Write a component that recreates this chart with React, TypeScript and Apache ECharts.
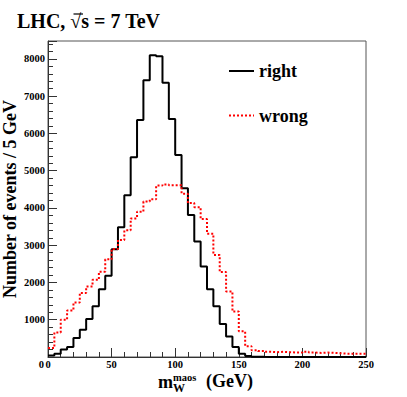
import React, { useEffect, useRef } from 'react';
import * as echarts from 'echarts';

const binWidth = 5;
const xMin = 0;
const xMax = 250;
const yMax = 8480;

const rightCounts = [
  40, 90, 200, 270, 510, 730, 1020, 1360, 1820, 2180,
  2890, 3480, 4340, 5360, 6360, 7430, 8100, 8070, 7360, 6390,
  5420, 4530, 3810, 3100, 2430, 1820, 1360, 885, 550, 270,
  90, 30, 10, 4, 2, 1, 0, 0, 0, 0,
  0, 0, 0, 0, 0, 0, 0, 0, 0, 0,
];

const wrongCounts = [
  240, 660, 1000, 1250, 1460, 1720, 1890, 2070, 2290, 2620,
  2900, 3140, 3400, 3720, 3900, 4170, 4230, 4600, 4630, 4610,
  4610, 4380, 4130, 4020, 3700, 3310, 2740, 2280, 1760, 1220,
  690, 290, 180, 160, 140, 130, 140, 130, 120, 120,
  140, 120, 110, 120, 110, 100, 90, 90, 90, 90,
];

const yTickLabels = [0, 1000, 2000, 3000, 4000, 5000, 6000, 7000, 8000];
const xTickLabels = [0, 50, 100, 150, 200, 250];

const seriesNames = ['right', 'wrong'];

const FONT = "'Liberation Serif', 'DejaVu Serif', serif";

function toSteps(counts: number[]) {
  const pts: number[][] = counts.map((v, i) => [xMin + i * binWidth, v]);
  pts.push([xMin + counts.length * binWidth, counts[counts.length - 1]]);
  return pts;
}

export default function App() {
  const ref = useRef<HTMLDivElement>(null);
  useEffect(() => {
    if (!ref.current) return;
    const chart = echarts.init(ref.current, undefined, { renderer: 'svg' });
    const labelStyle = {
      fontFamily: FONT,
      fontWeight: 'bold' as const,
      fontSize: 10.5,
      color: '#000',
    };
    const axisLineStyle = { color: '#333', width: 1 };
    chart.setOption({
      animation: false,
      grid: {
        left: 48,
        right: 41,
        top: 41,
        bottom: 40,
        show: true,
        borderColor: '#555',
        borderWidth: 1,
        backgroundColor: 'transparent',
      },
      legend: {
        data: seriesNames,
        orient: 'vertical',
        left: 223,
        top: 57,
        itemGap: 26.5,
        itemWidth: 25,
        itemHeight: 14,
        itemStyle: { opacity: 0 },
        textStyle: { fontFamily: FONT, fontWeight: 'bold', fontSize: 18, color: '#000' },
      },
      xAxis: [
        {
          type: 'value',
          min: xMin,
          max: xMax,
          interval: 10,
          position: 'bottom',
          axisLine: { show: true, onZero: false, lineStyle: axisLineStyle },
          axisTick: { show: true, inside: true, length: 5, lineStyle: axisLineStyle },
          axisLabel: { show: false },
          splitLine: { show: false },
        },
        {
          type: 'value',
          min: xMin,
          max: xMax,
          interval: 50,
          position: 'bottom',
          axisLine: { show: false, onZero: false },
          axisTick: { show: true, inside: true, length: 9, lineStyle: axisLineStyle },
          axisLabel: {
            ...labelStyle,
            margin: 2,
            formatter: (v: number) => (xTickLabels.includes(v) ? String(v) : ''),
          },
          splitLine: { show: false },
        },
      ],
      yAxis: [
        {
          type: 'value',
          min: 0,
          max: yMax,
          interval: 200,
          position: 'left',
          axisLine: { show: true, onZero: false, lineStyle: axisLineStyle },
          axisTick: { show: true, inside: true, length: 5, lineStyle: axisLineStyle },
          axisLabel: { show: false },
          splitLine: { show: false },
        },
        {
          type: 'value',
          min: 0,
          max: yMax,
          interval: 1000,
          position: 'left',
          axisLine: { show: false, onZero: false },
          axisTick: { show: true, inside: true, length: 9, lineStyle: axisLineStyle },
          axisLabel: {
            ...labelStyle,
            margin: 3,
            formatter: (v: number) =>
              yTickLabels.includes(v) ? (v === 0 ? '{z|0}' : String(v)) : '',
            rich: {
              z: { ...labelStyle, padding: [14, 1, 0, 0] },
            },
          },
          splitLine: { show: false },
        },
      ],
      series: [
        {
          name: seriesNames[0],
          type: 'line',
          step: 'end',
          data: toSteps(rightCounts),
          symbol: 'none',
          lineStyle: { color: '#000', width: 2 },
          itemStyle: { color: '#000' },
          z: 2,
        },
        {
          name: seriesNames[1],
          type: 'line',
          step: 'end',
          data: toSteps(wrongCounts),
          symbol: 'none',
          lineStyle: { color: '#ff0000', width: 2, type: [2, 2] },
          itemStyle: { color: '#ff0000' },
          z: 3,
        },
      ],
      graphic: [
        {
          type: 'text',
          left: 17,
          top: 11,
          style: {
            text: 'LHC, √s = 7 TeV',
            font: `bold 20px ${FONT}`,
            fill: '#000',
          },
        },
        {
          type: 'line',
          shape: { x1: 73.5, y1: 14, x2: 83, y2: 14 },
          style: { stroke: '#000', lineWidth: 1.2 },
        },
        {
          type: 'text',
          x: 10,
          y: 199,
          rotation: Math.PI / 2,
          style: {
            text: 'Number of events / 5 GeV',
            font: `bold 18px ${FONT}`,
            fill: '#000',
            textAlign: 'center',
            textVerticalAlign: 'middle',
          },
        },
        {
          type: 'text',
          x: 158,
          y: 381.5,
          style: {
            text: 'm',
            font: `bold 18px ${FONT}`,
            fill: '#000',
            textAlign: 'left',
            textVerticalAlign: 'middle',
          },
        },
        {
          type: 'text',
          x: 173,
          y: 377,
          style: {
            text: 'maos',
            font: `bold 10.5px ${FONT}`,
            fill: '#000',
            textAlign: 'left',
            textVerticalAlign: 'middle',
          },
        },
        {
          type: 'text',
          x: 173,
          y: 388,
          style: {
            text: 'W',
            font: `bold 12px ${FONT}`,
            fill: '#000',
            textAlign: 'left',
            textVerticalAlign: 'middle',
          },
        },
        {
          type: 'text',
          x: 206,
          y: 381,
          style: {
            text: '(GeV)',
            font: `bold 18px ${FONT}`,
            fill: '#000',
            textAlign: 'left',
            textVerticalAlign: 'middle',
          },
        },
      ],
    });
    return () => chart.dispose();
  }, []);
  return (
    <div
      ref={ref}
      style={{ position: 'fixed', left: 0, top: 0, width: 407, height: 397, background: '#fff' }}
    />
  );
}
